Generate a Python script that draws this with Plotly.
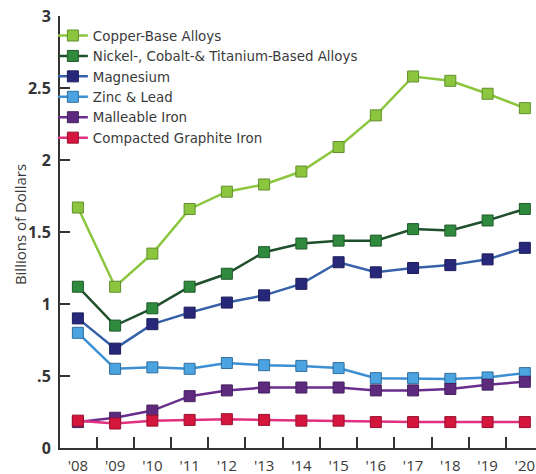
import plotly.graph_objects as go

years = ["'08", "'09", "'10", "'11", "'12", "'13", "'14", "'15", "'16", "'17", "'18", "'19", "'20"]

copper_base = [1.67, 1.12, 1.35, 1.66, 1.78, 1.83, 1.92, 2.09, 2.31, 2.58, 2.55, 2.46, 2.36]
nickel_cobalt_titanium = [1.12, 0.85, 0.97, 1.12, 1.21, 1.36, 1.42, 1.44, 1.44, 1.52, 1.51, 1.58, 1.66]
magnesium = [0.90, 0.69, 0.86, 0.94, 1.01, 1.06, 1.14, 1.29, 1.22, 1.25, 1.27, 1.31, 1.39]
zinc_lead = [0.80, 0.55, 0.56, 0.55, 0.59, 0.575, 0.57, 0.555, 0.485, 0.485, 0.48, 0.49, 0.52]
malleable_iron = [0.18, 0.21, 0.26, 0.36, 0.40, 0.42, 0.42, 0.42, 0.40, 0.40, 0.41, 0.44, 0.46]
compacted_graphite = [0.19, 0.17, 0.19, 0.195, 0.20, 0.195, 0.19, 0.19, 0.18, 0.18, 0.18, 0.18, 0.18]

y_tickvals = [0, 0.5, 1, 1.5, 2, 2.5, 3]
y_ticktext = ["0", ".5", "1", "1.5", "2", "2.5", "3"]

series = [
    ("Copper-Base Alloys", copper_base, "#8cc63f", "#8cc63f", "#5f8f2c"),
    ("Nickel-, Cobalt-& Titanium-Based Alloys", nickel_cobalt_titanium, "#1f4f2c", "#2f8a3e", "#1f5a2a"),
    ("Magnesium", magnesium, "#3660a8", "#28287a", "#1c1c5a"),
    ("Zinc & Lead", zinc_lead, "#3b8fd2", "#4ba3e0", "#2f6f9f"),
    ("Malleable Iron", malleable_iron, "#6a2d8c", "#5e2a7e", "#442060"),
    ("Compacted Graphite Iron", compacted_graphite, "#e0307f", "#d4153c", "#9a1030"),
]

FONT = "Open Sans"
fig = go.Figure()
for name, vals, line_c, fill_c, edge_c in series:
    fig.add_trace(go.Scatter(
        x=years, y=vals, name=name, mode="lines+markers",
        line=dict(color=line_c, width=2.5),
        marker=dict(symbol="square", size=11, color=fill_c,
                    line=dict(color=edge_c, width=1)),
        cliponaxis=False,
    ))

fig.update_layout(
    width=536, height=474,
    margin=dict(l=60, r=0, t=16, b=26),
    paper_bgcolor="white", plot_bgcolor="white",
    font=dict(family=FONT, color="#333333", size=13),
    showlegend=True,
    legend=dict(
        x=-0.015, y=0.99, xanchor="left", yanchor="top",
        bgcolor="rgba(0,0,0,0)",
        font=dict(size=13.4, color="#3a3a3a", family="DejaVu Sans"),
        itemwidth=30, tracegroupgap=0,
    ),
    xaxis=dict(
        type="category", range=[-0.48, 12.3],
        showgrid=False, zeroline=False,
        showline=True, linecolor="#333333", linewidth=2,
        ticks="inside", tickson="boundaries", ticklen=11, tickwidth=2, tickcolor="#333333",
        tickfont=dict(size=15, color="#3a3a3a", family=FONT),
        ticklabelstandoff=3,
    ),
    yaxis=dict(
        range=[0, 3], showgrid=False, zeroline=False,
        showline=True, linecolor="#333333", linewidth=2,
        tickvals=y_tickvals, ticktext=y_ticktext,
        ticks="inside", ticklen=10, tickwidth=2, tickcolor="#333333",
        tickfont=dict(size=16, color="#333333", family=FONT, weight="bold"),
        ticklabelstandoff=4,
    ),
    annotations=[dict(
        text="Billions of Dollars", textangle=-90,
        xref="paper", yref="paper", x=-0.084, y=0.516,
        xanchor="center", yanchor="middle", showarrow=False,
        font=dict(size=15, color="#3a3a3a", family=FONT),
    )],
)

fig.write_html("out.html")
